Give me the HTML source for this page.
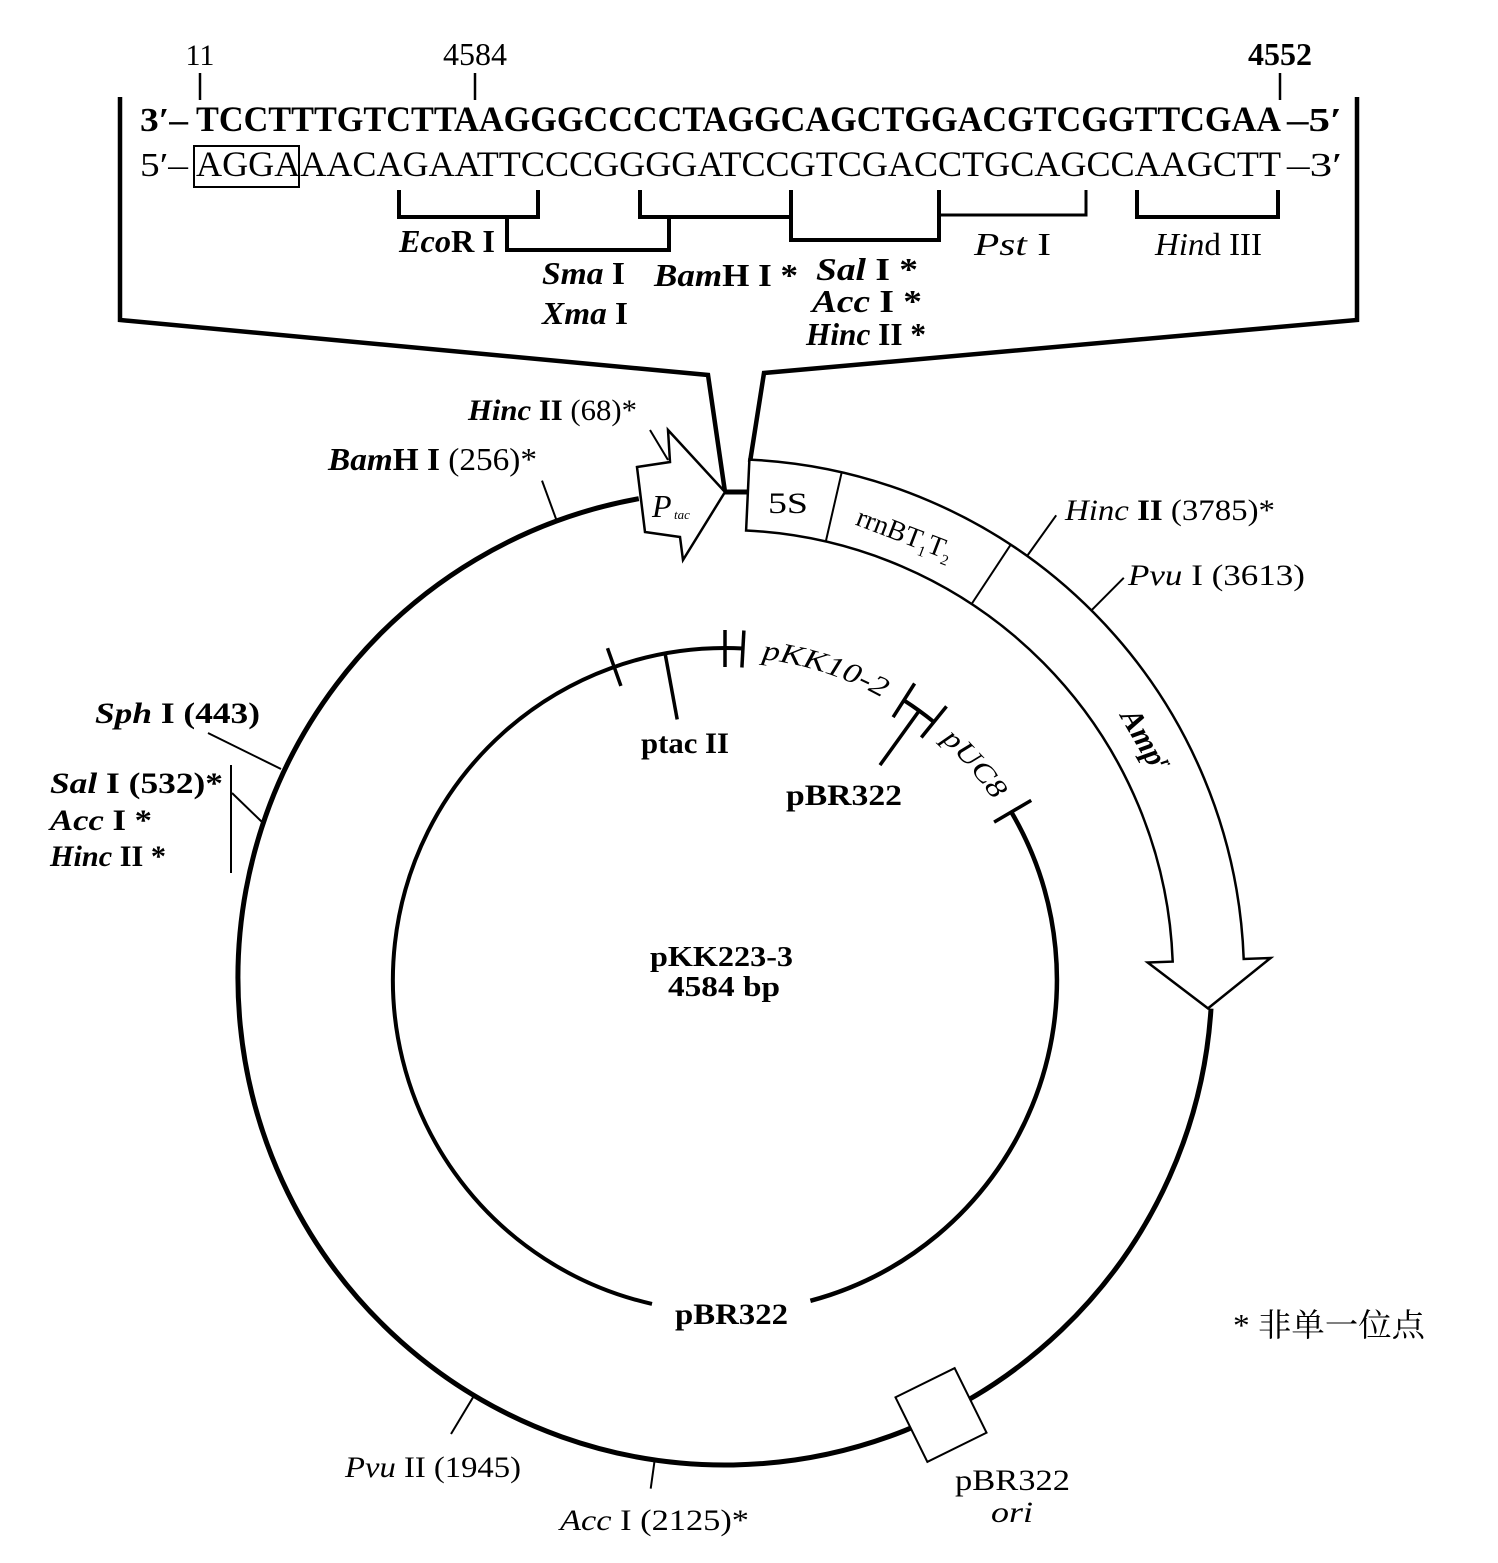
<!DOCTYPE html>
<html>
<head>
<meta charset="utf-8">
<style>
  html, body { margin: 0; padding: 0; background: #fff; }
  svg { display: block; }
  text { fill: #000; }
</style>
</head>
<body>
<svg width="1498" height="1563" viewBox="0 0 1498 1563" xmlns="http://www.w3.org/2000/svg" font-family="'Liberation Serif', 'Noto Serif CJK SC', serif">
  <rect x="0" y="0" width="1498" height="1563" fill="#fff"/>

  <!-- ===== Top: position numbers ===== -->
  <text x="200" y="65" font-size="30" text-anchor="middle">11</text>
  <text x="475" y="65" font-size="32" text-anchor="middle">4584</text>
  <text x="1280" y="65" font-size="32" font-weight="bold" text-anchor="middle">4552</text>
  <g stroke="#000" stroke-width="2.5">
    <line x1="200" y1="73" x2="200" y2="100"/>
    <line x1="475" y1="73" x2="475" y2="100"/>
    <line x1="1280" y1="73" x2="1280" y2="100"/>
  </g>

  <!-- ===== Sequence ===== -->
  <text x="140" y="131" font-size="34" font-weight="bold" textLength="48" lengthAdjust="spacingAndGlyphs">3′–</text>
  <text x="196" y="131" font-size="36" font-weight="bold" textLength="1085" lengthAdjust="spacingAndGlyphs">TCCTTTGTCTTAAGGGCCCCTAGGCAGCTGGACGTCGGTTCGAA</text>
  <text x="1287" y="131" font-size="34" font-weight="bold" textLength="55" lengthAdjust="spacingAndGlyphs">–5′</text>

  <text x="140" y="176" font-size="34" textLength="48" lengthAdjust="spacingAndGlyphs">5′–</text>
  <text x="196" y="176" font-size="36" textLength="1085" lengthAdjust="spacingAndGlyphs">AGGAAACAGAATTCCCGGGGATCCGTCGACCTGCAGCCAAGCTT</text>
  <text x="1287" y="176" font-size="34" textLength="55" lengthAdjust="spacingAndGlyphs">–3′</text>
  <rect x="194" y="146" width="105" height="41" fill="none" stroke="#000" stroke-width="2"/>

  <!-- ===== Brackets ===== -->
  <g fill="none" stroke="#000" stroke-width="4" stroke-linejoin="miter">
    <path d="M399,190 V217 H538 V190"/>
    <path d="M507,217 V250 H669 V217"/>
    <path d="M640,190 V217 H791"/>
    <path d="M791,190 V240 H939 V190"/>
    <path d="M939,215 H1086 V190" stroke-width="3"/>
    <path d="M1137,190 V217 H1278 V190"/>
  </g>

  <!-- Enzyme labels (top) -->
  <text x="399" y="252" font-size="32" font-weight="bold" textLength="96" lengthAdjust="spacingAndGlyphs"><tspan font-style="italic">Eco</tspan>R I</text>
  <text x="542" y="284" font-size="32" font-weight="bold" textLength="83" lengthAdjust="spacingAndGlyphs"><tspan font-style="italic">Sma</tspan> I</text>
  <text x="542" y="324" font-size="32" font-weight="bold" textLength="86" lengthAdjust="spacingAndGlyphs"><tspan font-style="italic">Xma</tspan> I</text>
  <text x="654" y="286" font-size="32" font-weight="bold" textLength="144" lengthAdjust="spacingAndGlyphs"><tspan font-style="italic">Bam</tspan>H I *</text>
  <text x="816" y="280" font-size="32" font-weight="bold" textLength="102" lengthAdjust="spacingAndGlyphs"><tspan font-style="italic">Sal</tspan>  I *</text>
  <text x="812" y="312" font-size="32" font-weight="bold" textLength="110" lengthAdjust="spacingAndGlyphs"><tspan font-style="italic">Acc</tspan>  I *</text>
  <text x="806" y="345" font-size="32" font-weight="bold" textLength="120" lengthAdjust="spacingAndGlyphs"><tspan font-style="italic">Hinc</tspan>  II *</text>
  <text x="974" y="255" font-size="32" textLength="77" lengthAdjust="spacingAndGlyphs"><tspan font-style="italic">Pst</tspan>  I</text>
  <text x="1155" y="255" font-size="32" textLength="107" lengthAdjust="spacingAndGlyphs"><tspan font-style="italic">Hin</tspan>d III</text>

  <!-- ===== Connector (zoom) lines ===== -->
  <g fill="none" stroke="#000" stroke-width="4.5" stroke-linejoin="miter">
    <path d="M120,97 V320 L708,375 L725,492"/>
    <path d="M1357,97 V320 L764,373 L750,462"/>
  </g>

  <!-- ===== Outer circle ===== -->
  <path d="M1211.0,1008.6 A487,487 0 1 1 638.8,498.7" fill="none" stroke="#000" stroke-width="5"/>
  <line x1="723" y1="492" x2="749" y2="492" stroke="#000" stroke-width="5"/>

  <!-- Ptac arrow -->
  <polygon points="637,467 670,462 668,430 725,492 683,560 680,537 645,532" fill="#fff" stroke="#000" stroke-width="2.5" stroke-linejoin="miter"/>
  <text x="652" y="517" font-size="32" font-style="italic">P</text>
  <text x="674" y="519" font-size="13" font-style="italic">tac</text>

  <!-- Band: 5S / rrnBT1T2 / Amp arrow -->
  <path d="M749.4,459.6 A519,519 0 0 1 1243.7,959.0 L1270.6,958.0 L1208.0,1008.4 L1147.7,962.5 L1172.7,961.6 A448,448 0 0 0 746.1,530.5 Z" fill="#fff" stroke="#000" stroke-width="2.5" stroke-linejoin="miter"/>
  <line x1="825.8" y1="541.5" x2="841.7" y2="472.3" stroke="#000" stroke-width="2"/>
  <line x1="971.6" y1="604.0" x2="1010.7" y2="544.7" stroke="#000" stroke-width="2"/>
  <text x="768" y="513" font-size="30" textLength="40" lengthAdjust="spacingAndGlyphs">5S</text>
  <g transform="rotate(21 905 533)">
    <text x="905" y="543" font-size="28" text-anchor="middle">rrnBT<tspan font-size="15" dy="6">1</tspan><tspan dy="-6">T</tspan><tspan font-size="15" dy="6">2</tspan></text>
  </g>
  <g transform="rotate(60 1145 740)">
    <text x="1145" y="750" font-size="31" font-style="italic" font-weight="bold" text-anchor="middle">Amp<tspan font-size="17" dy="-12">r</tspan></text>
  </g>

  <!-- Ticks on outer -->
  <g stroke="#000" stroke-width="2">
    <line x1="1027.1" y1="556.0" x2="1056.2" y2="515.3"/>
    <line x1="1092.1" y1="609.7" x2="1123.8" y2="577.8"/>
    <line x1="556.8" y1="521.0" x2="542.0" y2="480.6"/>
    <line x1="650" y1="430" x2="668" y2="460"/>
    <line x1="208" y1="733" x2="281" y2="769"/>
    <line x1="231" y1="765" x2="231" y2="873"/>
    <line x1="232" y1="793" x2="262" y2="822"/>
    <line x1="474.2" y1="1395.4" x2="451.0" y2="1434.0"/>
    <line x1="654.7" y1="1459.9" x2="650.7" y2="1488.6"/>
  </g>

  <!-- ori box -->
  <rect x="908" y="1379" width="66" height="72" fill="#fff" stroke="#000" stroke-width="2" transform="rotate(-26.3 941 1415)"/>

  <!-- Outer labels -->
  <text x="468" y="420" font-size="30" textLength="169" lengthAdjust="spacingAndGlyphs"><tspan font-style="italic" font-weight="bold">Hinc</tspan><tspan font-weight="bold"> II</tspan> (68)*</text>
  <text x="328" y="470" font-size="32" textLength="209" lengthAdjust="spacingAndGlyphs"><tspan font-style="italic" font-weight="bold">Bam</tspan><tspan font-weight="bold">H I</tspan> (256)*</text>
  <text x="1065" y="520" font-size="30" textLength="210" lengthAdjust="spacingAndGlyphs"><tspan font-style="italic">Hinc</tspan><tspan font-weight="bold"> II</tspan> (3785)*</text>
  <text x="1128" y="585" font-size="30" textLength="177" lengthAdjust="spacingAndGlyphs"><tspan font-style="italic">Pvu</tspan> I (3613)</text>
  <text x="95" y="723" font-size="30" font-weight="bold" textLength="165" lengthAdjust="spacingAndGlyphs"><tspan font-style="italic">Sph</tspan>  I (443)</text>
  <text x="50" y="793" font-size="30" font-weight="bold" textLength="173" lengthAdjust="spacingAndGlyphs"><tspan font-style="italic">Sal</tspan>  I (532)*</text>
  <text x="50" y="830" font-size="30" font-weight="bold" textLength="102" lengthAdjust="spacingAndGlyphs"><tspan font-style="italic">Acc</tspan> I *</text>
  <text x="50" y="866" font-size="30" font-weight="bold" textLength="116" lengthAdjust="spacingAndGlyphs"><tspan font-style="italic">Hinc</tspan> II *</text>
  <text x="345" y="1477" font-size="30" textLength="176" lengthAdjust="spacingAndGlyphs"><tspan font-style="italic">Pvu</tspan> II (1945)</text>
  <text x="560" y="1530" font-size="30" textLength="189" lengthAdjust="spacingAndGlyphs"><tspan font-style="italic">Acc</tspan> I (2125)*</text>
  <text x="955" y="1490" font-size="30" textLength="115" lengthAdjust="spacingAndGlyphs">pBR322</text>
  <text x="991" y="1522" font-size="30" font-style="italic" textLength="42" lengthAdjust="spacingAndGlyphs">ori</text>
  <text x="1233" y="1336" font-size="32" textLength="192" lengthAdjust="spacingAndGlyphs">* 非单一位点</text>

  <!-- ===== Inner circle ===== -->
  <g fill="none" stroke="#000" stroke-width="4">
    <path d="M652,1303.9 A332,332 0 0 1 725,648"/>
    <path d="M725,648 A332,332 0 0 1 743,648.5"/>
    <path d="M903.9,700.3 A332,332 0 0 1 933.9,722.0"/>
    <path d="M1011.3,812.0 A332,332 0 0 1 810.4,1300.8" stroke-width="4.5"/>
  </g>
  <g stroke="#000" stroke-width="3.5">
    <line x1="620.9" y1="685.9" x2="607.5" y2="648.2"/>
    <line x1="665.1" y1="653.5" x2="677.2" y2="719.4"/>
    <line x1="725" y1="667" x2="725" y2="630"/>
    <line x1="741.9" y1="667.5" x2="743.9" y2="630.5"/>
    <line x1="893.1" y1="717.2" x2="914.6" y2="683.5"/>
    <line x1="921.3" y1="737.5" x2="946.5" y2="706.4"/>
    <line x1="919.2" y1="710.7" x2="880.0" y2="765.1"/>
    <line x1="994.1" y1="822.1" x2="1031.2" y2="800.4"/>
  </g>

  <defs>
    <path id="arcKK" d="M761.6,659.1 A323,323 0 0 1 896.2,706.1"/>
    <path id="arcUC" d="M941.1,740.0 A323,323 0 0 1 1000.4,811.2"/>
  </defs>
  <text font-size="28" font-style="italic"><textPath href="#arcKK" textLength="128" lengthAdjust="spacingAndGlyphs">pKK10-2</textPath></text>
  <text font-size="28" font-style="italic"><textPath href="#arcUC" textLength="80" lengthAdjust="spacingAndGlyphs">pUC8</textPath></text>

  <!-- Inner labels -->
  <text x="641" y="753" font-size="30" font-weight="bold" textLength="88" lengthAdjust="spacingAndGlyphs">ptac II</text>
  <text x="786" y="805" font-size="30" font-weight="bold" textLength="116" lengthAdjust="spacingAndGlyphs">pBR322</text>
  <text x="650" y="966" font-size="28" font-weight="bold" textLength="143" lengthAdjust="spacingAndGlyphs">pKK223-3</text>
  <text x="668" y="996" font-size="28" font-weight="bold" textLength="112" lengthAdjust="spacingAndGlyphs">4584 bp</text>
  <text x="675" y="1324" font-size="30" font-weight="bold" textLength="113" lengthAdjust="spacingAndGlyphs">pBR322</text>
</svg>
</body>
</html>
